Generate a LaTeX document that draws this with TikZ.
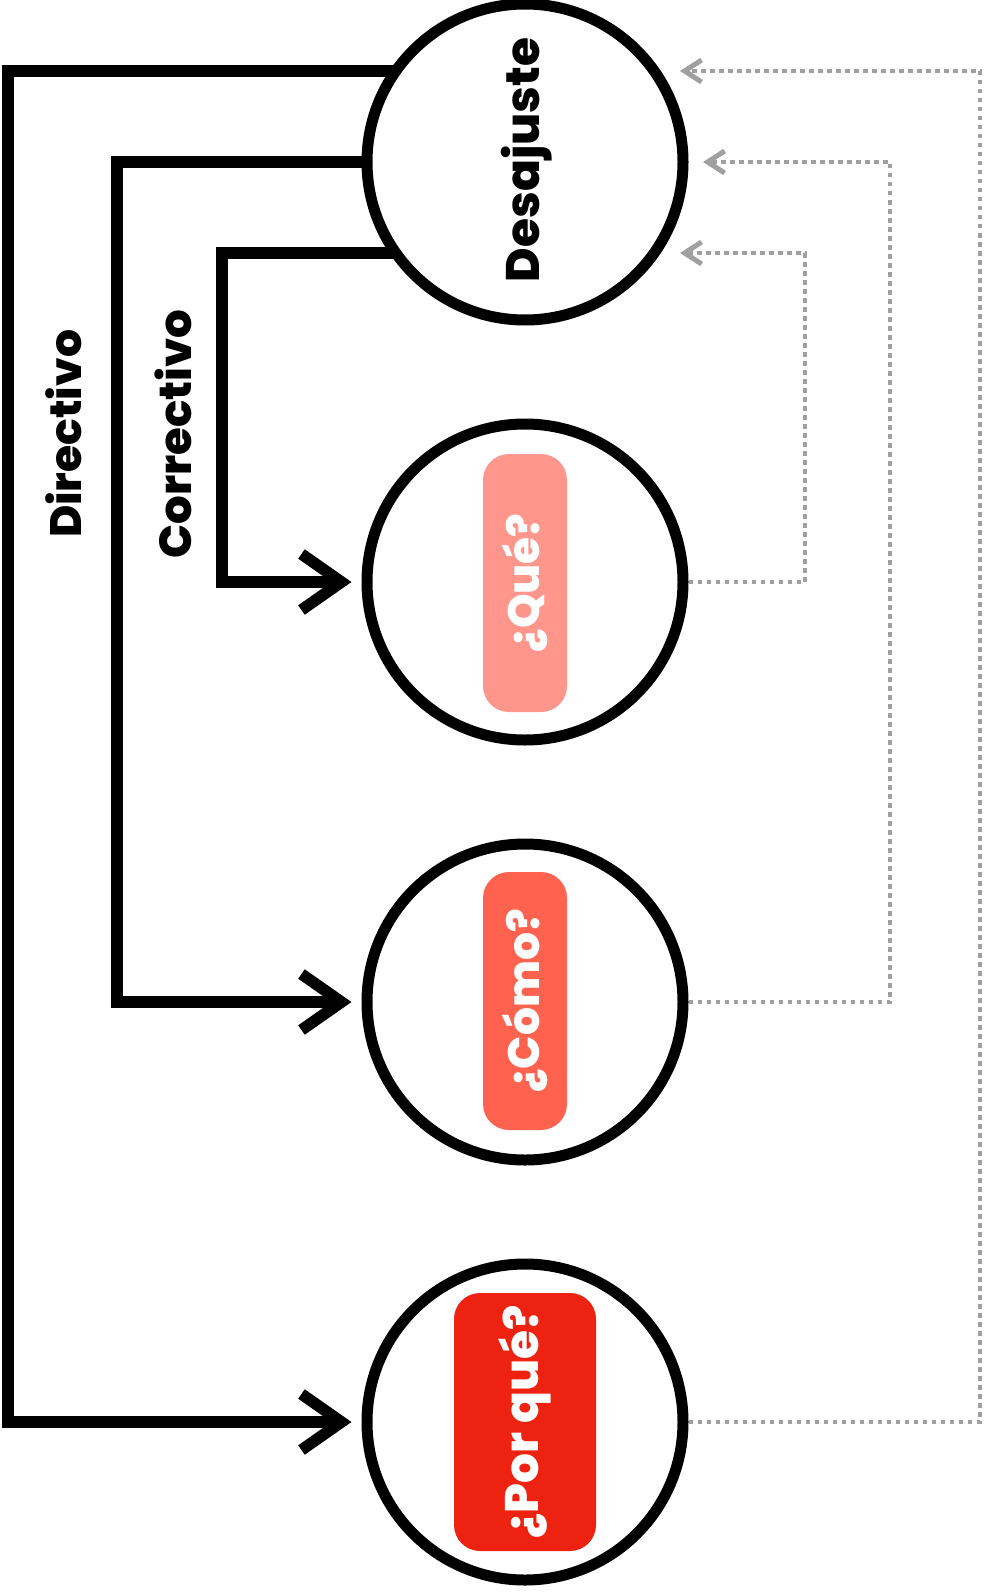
\documentclass[tikz,border=0pt]{standalone}
\usepackage{fontspec}
\setmainfont{Poppins}[BoldFont={Poppins ExtraBold}]
\usetikzlibrary{arrows.meta,calc,backgrounds}
\definecolor{queC}{HTML}{FF968C}
\definecolor{comoC}{HTML}{FF6350}
\definecolor{pqC}{HTML}{EE2211}
\definecolor{fbgray}{HTML}{A0A0A0}
\begin{document}
\begin{tikzpicture}[x=1pt,y=-1pt,
  circ/.style={circle, draw=black, fill=white, line width=11pt, minimum size=316pt, inner sep=0pt},
  qbox/.style={rotate=90, rounded corners=26pt, minimum height=84pt, minimum width=258pt, inner sep=0pt, text=white, font=\bfseries\fontsize{44}{50}\selectfont},
  lbl/.style={rotate=90, font=\bfseries\fontsize{44}{50}\selectfont},
  conn/.style={line width=11.5pt, -{Straight Barb[length=40pt,width=56pt]}},
  fb/.style={draw=fbgray, line width=4pt, dash pattern=on 4.5pt off 4.5pt, -{Straight Barb[length=17pt,width=22pt,line width=5pt]}}
]
\useasboundingbox (0,0) rectangle (985,1592);
\node[circ] (des) at (525,162) {};
\node[lbl, font=\bfseries\fontsize{47}{52}\selectfont] (desT) at (527,160) {Desajuste};
\node[circ] (que) at (525,582) {};
\node[circ] (como) at (525,1002) {};
\node[circ] (pq) at (525,1422) {};
\node[qbox, fill=queC] (queB) at (525,583) {¿Qué?};
\node[qbox, fill=comoC] (comoB) at (525,1001) {¿Cómo?};
\node[qbox, fill=pqC, minimum height=142pt, font=\bfseries\fontsize{47}{52}\selectfont] (pqB) at (525,1422) {¿Por qué?};
\node[lbl] (dirT) at (64,434) {Directivo};
\node[lbl, font=\bfseries\fontsize{45}{52}\selectfont] (corT) at (173,434) {Correctivo};
\coordinate (xDir) at (8,0);
\coordinate (xCor) at (117,0);
\coordinate (xQue) at (222,0);
\begin{scope}[on background layer]
\draw[conn] ($(des.center)+(0,-91)$) -| (xDir |- pq.center) -- ([xshift=-10pt]pq.west);
\draw[conn] (des.center) -| (xCor |- como.center) -- ([xshift=-10pt]como.west);
\draw[conn] ($(des.center)+(0,91)$) -| (xQue |- que.center) -- ([xshift=-10pt]que.west);
\end{scope}
\draw[fb] (que.east) -| ($(des.center)+(280,91)$) -- ($(des.center)+(155,91)$);
\draw[fb] (como.east) -| ($(des.center)+(365,0)$) -- ($(des.center)+(178,0)$);
\draw[fb] (pq.east) -| ($(des.center)+(455,-91)$) -- ($(des.center)+(155,-91)$);
\end{tikzpicture}
\end{document}
